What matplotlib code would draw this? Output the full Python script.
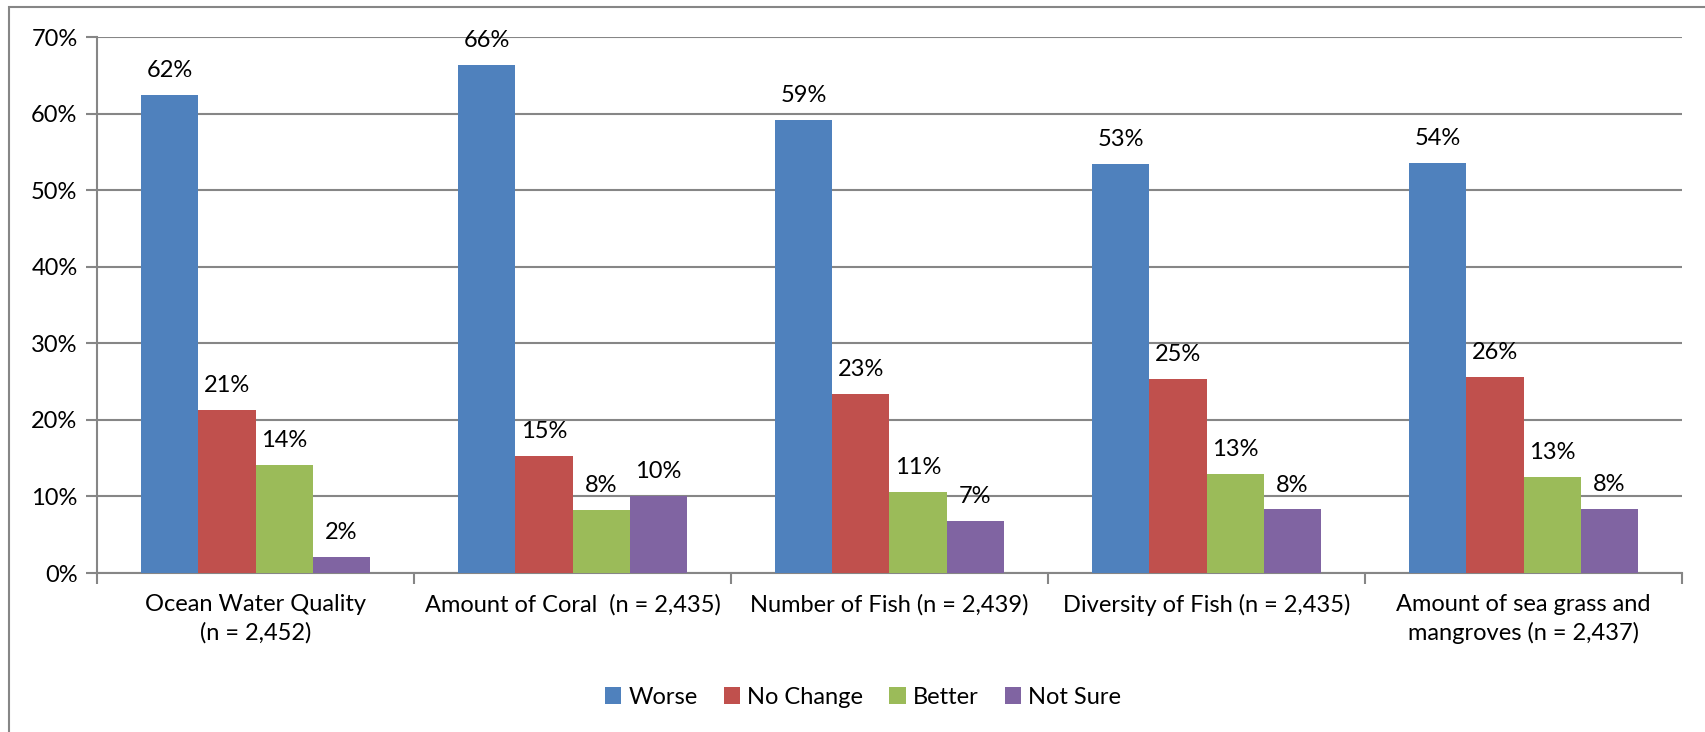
import matplotlib
matplotlib.use('Agg')
import matplotlib.pyplot as plt
import numpy as np
from matplotlib.patches import Rectangle

plt.rcParams.update({'font.family': ['Lato', 'DejaVu Sans'], 'font.size': 17})

categories = ['Ocean Water Quality\n(n = 2,452)',
              'Amount of Coral  (n = 2,435)',
              'Number of Fish (n = 2,439)',
              'Diversity of Fish (n = 2,435)',
              'Amount of sea grass and\nmangroves (n = 2,437)']
series = ['Worse', 'No Change', 'Better', 'Not Sure']
worse = [62.4, 66.4, 59.2, 53.4, 53.6]
no_change = [21.3, 15.3, 23.4, 25.4, 25.6]
better = [14.1, 8.2, 10.6, 12.9, 12.6]
not_sure = [2.1, 10.1, 6.8, 8.3, 8.4]
colors = ['#4F81BD', '#C0504D', '#9BBB59', '#8064A2']

W, H = 1705, 732
fig = plt.figure(figsize=(W / 100, H / 100), dpi=100)
ax = fig.add_axes([97 / W, 1 - 573 / H, (1682 - 97) / W, (573 - 37) / H])

x = np.arange(len(categories))
bw = 0.18
for i, (vals, c, name) in enumerate(zip([worse, no_change, better, not_sure], colors, series)):
    pos = x + (i - 1.5) * bw
    ax.bar(pos, vals, bw, color=c, label=name, zorder=3)
    for xp, v in zip(pos, vals):
        ax.annotate(f'{v:.0f}%', (xp, v), textcoords='offset points', xytext=(0, 10),
                    ha='center', va='bottom', fontsize=17)

ax.set_xlim(-0.5, len(categories) - 0.5)
ax.set_ylim(0, 70)
ax.set_yticks(np.arange(0, 71, 10))
ax.set_yticklabels([f'{t}%' for t in range(0, 71, 10)])
ax.yaxis.grid(True, color='#868686', linewidth=1.5, zorder=0)
ax.set_xticks(x)
ax.set_xticklabels(categories, linespacing=1.4)
ax.tick_params(axis='x', length=0, pad=15)
ax.set_xticks(np.arange(-0.5, len(categories)), minor=True)
ax.tick_params(axis='x', which='minor', length=8, color='#868686', width=1.5)
ax.tick_params(axis='y', length=8, color='#868686', width=1.5, pad=6)
for s in ('top', 'right'):
    ax.spines[s].set_visible(False)
for s in ('left', 'bottom'):
    ax.spines[s].set_color('#868686')
    ax.spines[s].set_linewidth(1.5)

fig.legend(loc='center', bbox_to_anchor=(863 / W, 1 - 697 / H), ncol=4, frameon=False,
           handlelength=0.7, handleheight=0.7, handletextpad=0.3, columnspacing=1.1, fontsize=17)

fig.add_artist(Rectangle((9 / W, -0.05), 1.1, 1 - 7 / H + 0.05, transform=fig.transFigure,
                         fill=False, edgecolor='#868686', linewidth=1.5))

fig.savefig('out.png', dpi=100)
